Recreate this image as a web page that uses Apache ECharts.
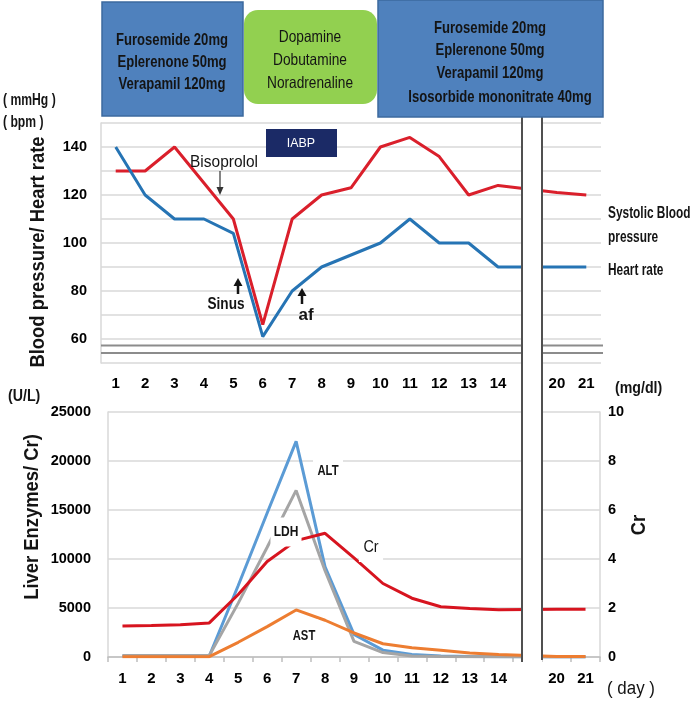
<!DOCTYPE html>
<html><head><meta charset="utf-8">
<script src="https://cdn.jsdelivr.net/npm/echarts@6/dist/echarts.min.js"></script>
<style>html,body{margin:0;padding:0;background:#fff}#c{width:695px;height:701px}</style>
</head><body><div id="c"></div>
<script>
// ---- data ----
const days = ['1','2','3','4','5','6','7','8','9','10','11','12','13','14','','20','21'];
const systolicBP = [130,130,140,125,110,66,110,120,123,140,144,136,120,124,null,121,120];
const heartRate  = [140,120,110,110,104,61,80,90,95,100,110,100,100,90,null,90,90];
const altValues = [100,100,100,100,7300,14700,22000,9200,2300,700,250,100,50,30,null,0,0];
const ldhValues = [150,150,150,150,5500,11200,17000,8800,1600,450,100,50,30,30,null,0,0];
const astValues = [30,30,30,30,1500,3100,4800,3750,2450,1350,950,700,400,250,null,50,50];
const crValues  = [1.27,1.29,1.32,1.39,2.55,3.9,4.75,5.05,4.05,3.0,2.4,2.05,1.98,1.93,null,1.95,1.95];
const bpTickLabels = [60,80,100,120,140];

const SANS = "'Liberation Sans',Arial,sans-serif";
const GRID_C = '#d9d9d9';
const INK = '#141414';

const chart = echarts.init(document.getElementById('c'), null, {renderer:'canvas'});

function txt(x, y, text, size, opts) {
  opts = opts || {};
  return {type:'text', x:x, y:y, z:120, rotation: opts.rotation || 0,
    scaleX: opts.sx || 0.84, scaleY: 1,
    style:{text:text, fill: opts.color || INK, font: (opts.weight||'bold') + ' ' + size + 'px ' + SANS,
      align: opts.align || 'center', verticalAlign:'middle',
      backgroundColor: opts.bg, padding: opts.padding}};
}
function box(x, y, w, h, fill, stroke, r) {
  return {type:'rect', z:110, shape:{x:x, y:y, width:w, height:h, r:r||0},
    style:{fill:fill, stroke:stroke||null, lineWidth: stroke?1.5:0}};
}
function line(x1,y1,x2,y2,color,w,z) {
  return {type:'line', z:z||115, shape:{x1:x1,y1:y1,x2:x2,y2:y2}, style:{stroke:color, lineWidth:w}};
}
function tri(points, color) {
  return {type:'polygon', z:115, shape:{points:points}, style:{fill:color}};
}

const graphics = [
  // treatment boxes
  box(102, 2, 141, 114, '#4F81BD', '#3D6A9E'),
  txt(172, 40, 'Furosemide 20mg', 17, {sx:0.77}), txt(172, 62, 'Eplerenone 50mg', 17, {sx:0.77}), txt(172, 84, 'Verapamil 120mg', 17, {sx:0.77}),
  box(244, 10, 133, 94, '#92D050', null, 14),
  txt(310, 37, 'Dopamine', 16.5, {weight:'normal', sx:0.83}), txt(310, 60, 'Dobutamine', 16.5, {weight:'normal', sx:0.83}), txt(310, 83, 'Noradrenaline', 16.5, {weight:'normal', sx:0.83}),
  box(378, 0, 225, 117, '#4F81BD', '#3D6A9E'),
  txt(490, 28, 'Furosemide 20mg', 17, {sx:0.77}), txt(490, 50, 'Eplerenone 50mg', 17, {sx:0.77}), txt(490, 73, 'Verapamil 120mg', 17, {sx:0.77}),
  txt(500, 97, 'Isosorbide mononitrate 40mg', 17, {sx:0.77}),
  // IABP
  box(266, 129, 71, 28, '#1B2A66'),
  txt(301, 143, 'IABP', 13.5, {color:'#fff', weight:'normal', sx:0.92}),
  // units / titles
  txt(3, 101, '( mmHg )', 16, {align:'left', sx:0.76}),
  txt(3, 123, '( bpm )', 16, {align:'left', sx:0.76}),
  txt(38, 252, 'Blood pressure/ Heart rate', 20, {rotation:Math.PI/2, sx:0.92}),
  txt(608, 213, 'Systolic Blood', 16.5, {align:'left', sx:0.72}),
  txt(608, 237, 'pressure', 16.5, {align:'left', sx:0.72}),
  txt(608, 270, 'Heart rate', 16.5, {align:'left', sx:0.72}),
  // annotations upper
  txt(224, 162, 'Bisoprolol', 17, {weight:'normal', sx:0.91}),
  line(220, 171, 220, 190, '#333', 1.2), tri([[216.5,187],[223.5,187],[220,195]], '#333'),
  txt(226, 304, 'Sinus', 17, {weight:'bold', sx:0.8}),
  line(238, 294, 238, 284, INK, 2.5), tri([[233.5,286],[242.5,286],[238,278]], INK),
  txt(306, 315, 'af', 17, {weight:'bold', sx:1}),
  line(302, 304, 302, 294, INK, 2.5), tri([[297.5,296],[306.5,296],[302,288]], INK),
  // axis break double lines (upper)
  line(101, 345.5, 603, 345.5, '#8c8c8c', 2, 60),
  line(101, 353, 603, 353, '#8c8c8c', 2, 60),
  // lower titles
  txt(8, 396, '(U/L)', 16.5, {align:'left', sx:0.86}),
  txt(615, 388, '(mg/dl)', 16.5, {align:'left', sx:0.86}),
  txt(607, 689, '( day )', 18, {align:'left', weight:'normal', sx:0.94}),
  txt(32, 517, 'Liver Enzymes/ Cr)', 20, {rotation:Math.PI/2, sx:0.92}),
  txt(639, 525, 'Cr', 20, {rotation:Math.PI/2, sx:0.92}),
  // lower series labels with white boxes
  txt(328, 471, 'ALT', 15, {bg:'#fff', padding:[8,6,8,6], sx:0.75}),
  txt(286, 532, 'LDH', 15, {bg:'#fff', padding:[7,4,7,4], sx:0.8}),
  txt(371, 548, 'Cr', 16, {bg:'#fff', padding:[6,5,6,5], weight:'normal', sx:0.9}),
  txt(304, 636, 'AST', 15, {bg:'#fff', padding:[9,4,9,4], sx:0.75}),
  // break band across both panels
  {type:'rect', z:100, shape:{x:522, y:117, width:20, height:545}, style:{fill:'#fff'}},
  line(522, 117, 522, 662, '#505050', 2, 101),
  line(542, 117, 542, 660, '#505050', 2, 101)
];

const labelStyle = {fontFamily: SANS, fontWeight:'bold', fontSize:15, color:'#000'};
const yLabelStyle = {fontFamily: SANS, fontWeight:'bold', fontSize:14.5, color:'#000'};

const option = {
  animation:false,
  backgroundColor:'#fff',
  grid:[
    {left:101, top:123, width:500, height:240},
    {left:108, top:412, width:492, height:245}
  ],
  xAxis:[
    {type:'category', gridIndex:0, data:days, boundaryGap:true,
     axisLine:{show:false}, axisTick:{show:false}, splitLine:{show:false},
     axisLabel:Object.assign({interval:0, margin:13}, labelStyle)},
    {type:'category', gridIndex:1, data:days, boundaryGap:true,
     axisLine:{show:true, lineStyle:{color:'#bfbfbf', width:1.5}},
     axisTick:{show:true, interval:0, length:5, lineStyle:{color:'#bfbfbf', width:1.5}},
     splitLine:{show:false},
     axisLabel:Object.assign({interval:0, margin:14}, labelStyle)}
  ],
  yAxis:[
    {type:'value', gridIndex:0, min:50, max:150, interval:10,
     axisLine:{show:true, lineStyle:{color:GRID_C, width:1.5}}, axisTick:{show:false},
     splitLine:{show:true, lineStyle:{color:GRID_C, width:1.5}},
     axisLabel:Object.assign({margin:14, padding:[0,0,5,0],
       formatter:function(v){ return bpTickLabels.indexOf(v) >= 0 ? String(v) : ''; }}, yLabelStyle)},
    {type:'value', gridIndex:1, min:0, max:25000, interval:5000,
     axisLine:{show:true, lineStyle:{color:GRID_C, width:1.5}}, axisTick:{show:false},
     splitLine:{show:true, lineStyle:{color:GRID_C, width:1.5}},
     axisLabel:Object.assign({margin:17, formatter:function(v){ return String(v); }}, yLabelStyle)},
    {type:'value', gridIndex:1, position:'right', min:0, max:10, interval:2,
     axisLine:{show:true, lineStyle:{color:GRID_C, width:1.5}}, axisTick:{show:false},
     splitLine:{show:false},
     axisLabel:Object.assign({margin:8, formatter:function(v){ return String(v); }}, yLabelStyle)}
  ],
  series:[
    {name:'Systolic Blood pressure', type:'line', xAxisIndex:0, yAxisIndex:0, data:systolicBP, connectNulls:true,
     symbol:'none', lineStyle:{color:'#DA1F2B', width:3}, z:3},
    {name:'Heart rate', type:'line', xAxisIndex:0, yAxisIndex:0, data:heartRate, connectNulls:true,
     symbol:'none', lineStyle:{color:'#2674B4', width:3}, z:4},
    {name:'ALT', type:'line', xAxisIndex:1, yAxisIndex:1, data:altValues, connectNulls:true,
     symbol:'none', lineStyle:{color:'#5B9BD5', width:3}, z:3},
    {name:'LDH', type:'line', xAxisIndex:1, yAxisIndex:1, data:ldhValues, connectNulls:true,
     symbol:'none', lineStyle:{color:'#A5A5A5', width:3}, z:4},
    {name:'AST', type:'line', xAxisIndex:1, yAxisIndex:1, data:astValues, connectNulls:true,
     symbol:'none', lineStyle:{color:'#ED7D31', width:3}, z:5},
    {name:'Cr', type:'line', xAxisIndex:1, yAxisIndex:2, data:crValues, connectNulls:true,
     symbol:'none', lineStyle:{color:'#D7141F', width:3}, z:6}
  ],
  graphic: graphics
};
chart.setOption(option);
</script></body></html>
